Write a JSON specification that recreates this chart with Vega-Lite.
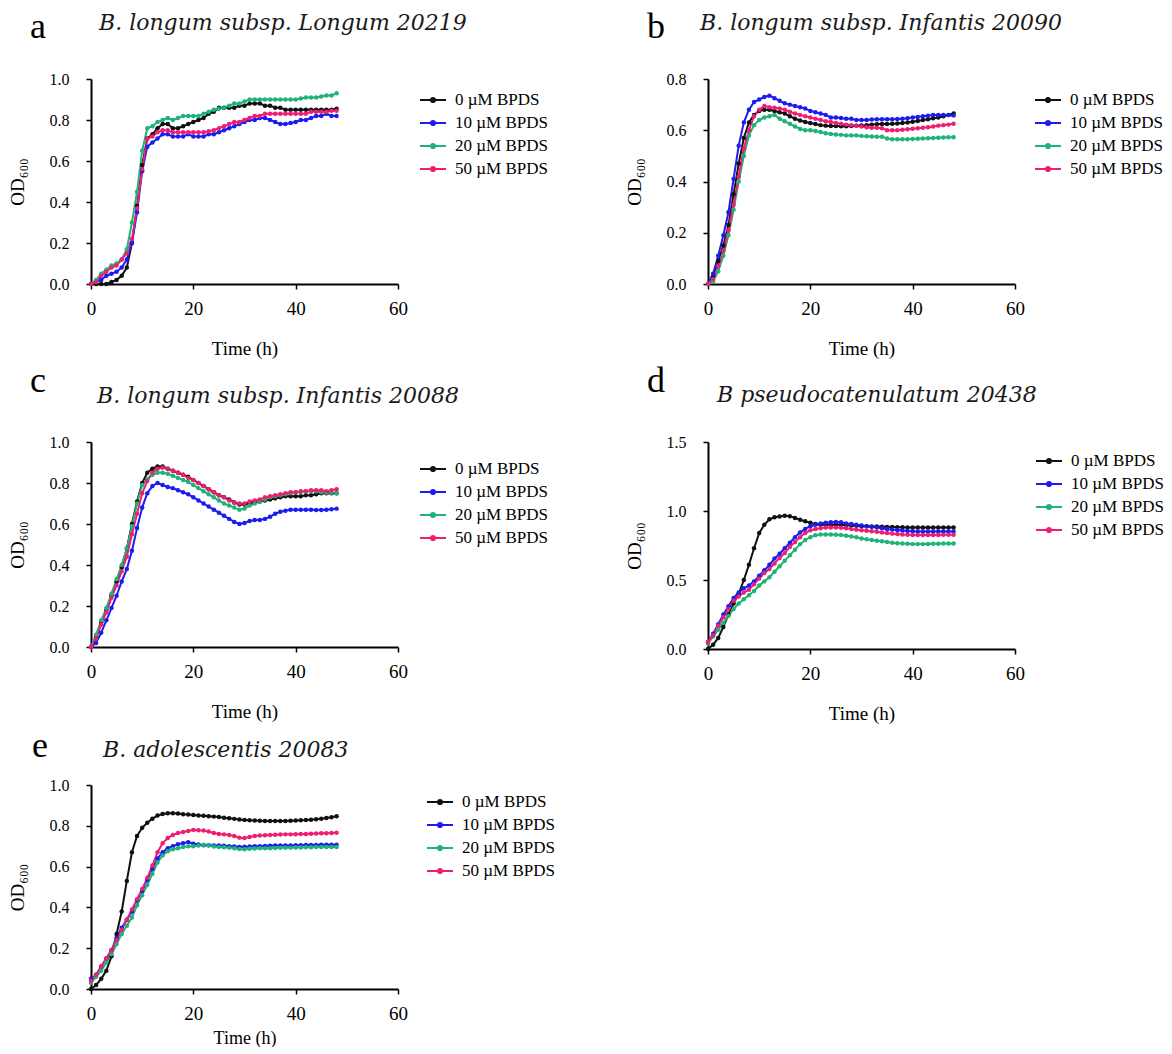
{
  "$schema": "https://vega.github.io/schema/vega-lite/v6.json",
  "padding": {"left": 8, "top": 9, "right": 0, "bottom": 0},
  "background": "white",
  "config": {
    "view": {"stroke": null},
    "axis": {"grid": false, "domainColor": "#000", "domainWidth": 2, "tickColor": "#000", "tickWidth": 1.5, "tickSize": 5, "labelFont": "Liberation Serif", "titleFont": "Liberation Serif", "titleFontWeight": "normal", "labelColor": "#000", "titleColor": "#000"},
    "axisX": {"labelFontSize": 19, "titleFontSize": 19, "labelPadding": 10, "titlePadding": 21, "labelFlush": false},
    "axisY": {"labelFontSize": 16, "titleFontSize": 19, "labelPadding": 17, "titlePadding": 22},
    "legend": {"labelFont": "Liberation Serif", "labelFontSize": 17, "labelColor": "#000", "rowPadding": 1, "labelOffset": 8, "symbolType": "M-1,0H1M-0.16,0A0.16,0.16,0,1,0,0.16,0A0.16,0.16,0,1,0,-0.16,0Z", "symbolSize": 676, "symbolStrokeWidth": 2}
  },
  "columns": 2,
  "align": "each",
  "spacing": {"row": 5, "column": 70},
  "resolve": {"scale": {"color": "independent"}, "legend": {"color": "independent"}},
  "datasets": {
    "a": [
      {"t":0,"c0":0.00,"c10":0.00,"c20":0.00,"c50":0.00},
      {"t":1,"c0":0.00,"c10":0.01,"c20":0.02,"c50":0.01},
      {"t":2,"c0":0.00,"c10":0.02,"c20":0.05,"c50":0.04},
      {"t":3,"c0":0.00,"c10":0.04,"c20":0.07,"c50":0.06},
      {"t":4,"c0":0.01,"c10":0.05,"c20":0.09,"c50":0.08},
      {"t":5,"c0":0.02,"c10":0.06,"c20":0.10,"c50":0.09},
      {"t":6,"c0":0.04,"c10":0.08,"c20":0.12,"c50":0.12},
      {"t":7,"c0":0.08,"c10":0.12,"c20":0.17,"c50":0.15},
      {"t":8,"c0":0.20,"c10":0.20,"c20":0.30,"c50":0.22},
      {"t":9,"c0":0.38,"c10":0.35,"c20":0.45,"c50":0.37},
      {"t":10,"c0":0.58,"c10":0.55,"c20":0.65,"c50":0.56},
      {"t":11,"c0":0.71,"c10":0.67,"c20":0.76,"c50":0.71},
      {"t":12,"c0":0.73,"c10":0.69,"c20":0.77,"c50":0.72},
      {"t":13,"c0":0.76,"c10":0.71,"c20":0.79,"c50":0.74},
      {"t":14,"c0":0.78,"c10":0.73,"c20":0.80,"c50":0.75},
      {"t":15,"c0":0.78,"c10":0.73,"c20":0.81,"c50":0.75},
      {"t":16,"c0":0.76,"c10":0.72,"c20":0.80,"c50":0.74},
      {"t":17,"c0":0.76,"c10":0.72,"c20":0.81,"c50":0.74},
      {"t":18,"c0":0.77,"c10":0.72,"c20":0.82,"c50":0.74},
      {"t":19,"c0":0.78,"c10":0.73,"c20":0.82,"c50":0.74},
      {"t":20,"c0":0.79,"c10":0.72,"c20":0.82,"c50":0.74},
      {"t":21,"c0":0.80,"c10":0.72,"c20":0.82,"c50":0.74},
      {"t":22,"c0":0.81,"c10":0.72,"c20":0.83,"c50":0.74},
      {"t":23,"c0":0.83,"c10":0.73,"c20":0.84,"c50":0.745},
      {"t":24,"c0":0.84,"c10":0.73,"c20":0.85,"c50":0.75},
      {"t":25,"c0":0.86,"c10":0.74,"c20":0.855,"c50":0.76},
      {"t":26,"c0":0.86,"c10":0.75,"c20":0.86,"c50":0.77},
      {"t":27,"c0":0.86,"c10":0.76,"c20":0.87,"c50":0.78},
      {"t":28,"c0":0.86,"c10":0.77,"c20":0.88,"c50":0.79},
      {"t":29,"c0":0.87,"c10":0.78,"c20":0.88,"c50":0.79},
      {"t":30,"c0":0.87,"c10":0.79,"c20":0.89,"c50":0.80},
      {"t":31,"c0":0.88,"c10":0.80,"c20":0.90,"c50":0.81},
      {"t":32,"c0":0.88,"c10":0.80,"c20":0.90,"c50":0.82},
      {"t":33,"c0":0.88,"c10":0.81,"c20":0.90,"c50":0.82},
      {"t":34,"c0":0.87,"c10":0.81,"c20":0.90,"c50":0.83},
      {"t":35,"c0":0.87,"c10":0.80,"c20":0.90,"c50":0.83},
      {"t":36,"c0":0.86,"c10":0.79,"c20":0.90,"c50":0.83},
      {"t":37,"c0":0.86,"c10":0.78,"c20":0.90,"c50":0.83},
      {"t":38,"c0":0.85,"c10":0.78,"c20":0.90,"c50":0.83},
      {"t":39,"c0":0.85,"c10":0.785,"c20":0.90,"c50":0.83},
      {"t":40,"c0":0.85,"c10":0.79,"c20":0.90,"c50":0.83},
      {"t":41,"c0":0.85,"c10":0.80,"c20":0.905,"c50":0.83},
      {"t":42,"c0":0.85,"c10":0.80,"c20":0.91,"c50":0.83},
      {"t":43,"c0":0.85,"c10":0.81,"c20":0.91,"c50":0.84},
      {"t":44,"c0":0.85,"c10":0.82,"c20":0.91,"c50":0.84},
      {"t":45,"c0":0.85,"c10":0.82,"c20":0.915,"c50":0.84},
      {"t":46,"c0":0.85,"c10":0.83,"c20":0.92,"c50":0.84},
      {"t":47,"c0":0.85,"c10":0.82,"c20":0.92,"c50":0.845},
      {"t":48,"c0":0.855,"c10":0.82,"c20":0.93,"c50":0.845}
    ],
    "b": [
      {"t":0,"c0":0.00,"c10":0.00,"c20":0.00,"c50":0.00},
      {"t":1,"c0":0.03,"c10":0.04,"c20":0.01,"c50":0.02},
      {"t":2,"c0":0.09,"c10":0.11,"c20":0.05,"c50":0.07},
      {"t":3,"c0":0.15,"c10":0.19,"c20":0.11,"c50":0.13},
      {"t":4,"c0":0.23,"c10":0.28,"c20":0.19,"c50":0.21},
      {"t":5,"c0":0.35,"c10":0.41,"c20":0.29,"c50":0.31},
      {"t":6,"c0":0.47,"c10":0.54,"c20":0.40,"c50":0.42},
      {"t":7,"c0":0.57,"c10":0.63,"c20":0.50,"c50":0.53},
      {"t":8,"c0":0.63,"c10":0.68,"c20":0.58,"c50":0.60},
      {"t":9,"c0":0.66,"c10":0.71,"c20":0.62,"c50":0.655},
      {"t":10,"c0":0.675,"c10":0.72,"c20":0.64,"c50":0.68},
      {"t":11,"c0":0.68,"c10":0.73,"c20":0.65,"c50":0.695},
      {"t":12,"c0":0.68,"c10":0.735,"c20":0.655,"c50":0.69},
      {"t":13,"c0":0.675,"c10":0.725,"c20":0.66,"c50":0.688},
      {"t":14,"c0":0.67,"c10":0.715,"c20":0.645,"c50":0.685},
      {"t":15,"c0":0.665,"c10":0.705,"c20":0.635,"c50":0.68},
      {"t":16,"c0":0.655,"c10":0.70,"c20":0.625,"c50":0.672},
      {"t":17,"c0":0.645,"c10":0.695,"c20":0.615,"c50":0.665},
      {"t":18,"c0":0.638,"c10":0.69,"c20":0.605,"c50":0.66},
      {"t":19,"c0":0.632,"c10":0.685,"c20":0.60,"c50":0.655},
      {"t":20,"c0":0.628,"c10":0.675,"c20":0.60,"c50":0.65},
      {"t":21,"c0":0.624,"c10":0.67,"c20":0.597,"c50":0.645},
      {"t":22,"c0":0.62,"c10":0.665,"c20":0.593,"c50":0.64},
      {"t":23,"c0":0.618,"c10":0.66,"c20":0.588,"c50":0.635},
      {"t":24,"c0":0.617,"c10":0.65,"c20":0.585,"c50":0.632},
      {"t":25,"c0":0.617,"c10":0.65,"c20":0.583,"c50":0.628},
      {"t":26,"c0":0.616,"c10":0.648,"c20":0.582,"c50":0.625},
      {"t":27,"c0":0.616,"c10":0.645,"c20":0.58,"c50":0.622},
      {"t":28,"c0":0.617,"c10":0.645,"c20":0.58,"c50":0.62},
      {"t":29,"c0":0.618,"c10":0.64,"c20":0.58,"c50":0.618},
      {"t":30,"c0":0.619,"c10":0.64,"c20":0.578,"c50":0.615},
      {"t":31,"c0":0.62,"c10":0.64,"c20":0.577,"c50":0.612},
      {"t":32,"c0":0.622,"c10":0.642,"c20":0.576,"c50":0.61},
      {"t":33,"c0":0.623,"c10":0.643,"c20":0.575,"c50":0.61},
      {"t":34,"c0":0.624,"c10":0.643,"c20":0.575,"c50":0.608},
      {"t":35,"c0":0.624,"c10":0.643,"c20":0.568,"c50":0.60},
      {"t":36,"c0":0.625,"c10":0.643,"c20":0.565,"c50":0.60},
      {"t":37,"c0":0.626,"c10":0.644,"c20":0.565,"c50":0.60},
      {"t":38,"c0":0.628,"c10":0.645,"c20":0.565,"c50":0.602},
      {"t":39,"c0":0.63,"c10":0.647,"c20":0.565,"c50":0.604},
      {"t":40,"c0":0.633,"c10":0.65,"c20":0.566,"c50":0.606},
      {"t":41,"c0":0.636,"c10":0.652,"c20":0.567,"c50":0.608},
      {"t":42,"c0":0.64,"c10":0.655,"c20":0.568,"c50":0.61},
      {"t":43,"c0":0.643,"c10":0.657,"c20":0.569,"c50":0.612},
      {"t":44,"c0":0.647,"c10":0.66,"c20":0.57,"c50":0.615},
      {"t":45,"c0":0.65,"c10":0.66,"c20":0.571,"c50":0.618},
      {"t":46,"c0":0.655,"c10":0.66,"c20":0.572,"c50":0.62},
      {"t":47,"c0":0.66,"c10":0.659,"c20":0.573,"c50":0.622},
      {"t":48,"c0":0.665,"c10":0.658,"c20":0.573,"c50":0.625}
    ],
    "c": [
      {"t":0,"c0":0.00,"c10":0.00,"c20":0.00,"c50":0.00},
      {"t":1,"c0":0.05,"c10":0.02,"c20":0.06,"c50":0.04},
      {"t":2,"c0":0.12,"c10":0.07,"c20":0.13,"c50":0.11},
      {"t":3,"c0":0.18,"c10":0.13,"c20":0.19,"c50":0.17},
      {"t":4,"c0":0.25,"c10":0.19,"c20":0.26,"c50":0.24},
      {"t":5,"c0":0.32,"c10":0.25,"c20":0.33,"c50":0.30},
      {"t":6,"c0":0.39,"c10":0.32,"c20":0.40,"c50":0.37},
      {"t":7,"c0":0.48,"c10":0.38,"c20":0.48,"c50":0.44},
      {"t":8,"c0":0.60,"c10":0.47,"c20":0.59,"c50":0.55},
      {"t":9,"c0":0.71,"c10":0.58,"c20":0.70,"c50":0.65},
      {"t":10,"c0":0.80,"c10":0.68,"c20":0.79,"c50":0.75},
      {"t":11,"c0":0.85,"c10":0.75,"c20":0.82,"c50":0.81},
      {"t":12,"c0":0.87,"c10":0.785,"c20":0.84,"c50":0.85},
      {"t":13,"c0":0.88,"c10":0.80,"c20":0.85,"c50":0.87},
      {"t":14,"c0":0.88,"c10":0.79,"c20":0.85,"c50":0.875},
      {"t":15,"c0":0.87,"c10":0.78,"c20":0.845,"c50":0.87},
      {"t":16,"c0":0.86,"c10":0.775,"c20":0.835,"c50":0.86},
      {"t":17,"c0":0.85,"c10":0.765,"c20":0.825,"c50":0.85},
      {"t":18,"c0":0.84,"c10":0.755,"c20":0.815,"c50":0.84},
      {"t":19,"c0":0.83,"c10":0.745,"c20":0.805,"c50":0.825},
      {"t":20,"c0":0.815,"c10":0.73,"c20":0.79,"c50":0.815},
      {"t":21,"c0":0.80,"c10":0.715,"c20":0.775,"c50":0.80},
      {"t":22,"c0":0.785,"c10":0.70,"c20":0.76,"c50":0.785},
      {"t":23,"c0":0.77,"c10":0.685,"c20":0.745,"c50":0.77},
      {"t":24,"c0":0.755,"c10":0.67,"c20":0.73,"c50":0.755},
      {"t":25,"c0":0.74,"c10":0.655,"c20":0.715,"c50":0.74},
      {"t":26,"c0":0.73,"c10":0.64,"c20":0.70,"c50":0.73},
      {"t":27,"c0":0.72,"c10":0.625,"c20":0.69,"c50":0.715},
      {"t":28,"c0":0.705,"c10":0.61,"c20":0.68,"c50":0.705},
      {"t":29,"c0":0.695,"c10":0.60,"c20":0.67,"c50":0.70},
      {"t":30,"c0":0.695,"c10":0.605,"c20":0.675,"c50":0.70},
      {"t":31,"c0":0.70,"c10":0.615,"c20":0.69,"c50":0.71},
      {"t":32,"c0":0.705,"c10":0.62,"c20":0.70,"c50":0.715},
      {"t":33,"c0":0.71,"c10":0.62,"c20":0.71,"c50":0.72},
      {"t":34,"c0":0.715,"c10":0.625,"c20":0.72,"c50":0.73},
      {"t":35,"c0":0.72,"c10":0.635,"c20":0.73,"c50":0.735},
      {"t":36,"c0":0.725,"c10":0.65,"c20":0.735,"c50":0.74},
      {"t":37,"c0":0.73,"c10":0.66,"c20":0.74,"c50":0.745},
      {"t":38,"c0":0.735,"c10":0.665,"c20":0.745,"c50":0.75},
      {"t":39,"c0":0.735,"c10":0.67,"c20":0.75,"c50":0.755},
      {"t":40,"c0":0.735,"c10":0.67,"c20":0.755,"c50":0.755},
      {"t":41,"c0":0.735,"c10":0.67,"c20":0.755,"c50":0.76},
      {"t":42,"c0":0.74,"c10":0.67,"c20":0.76,"c50":0.76},
      {"t":43,"c0":0.74,"c10":0.67,"c20":0.76,"c50":0.765},
      {"t":44,"c0":0.745,"c10":0.668,"c20":0.76,"c50":0.765},
      {"t":45,"c0":0.75,"c10":0.668,"c20":0.755,"c50":0.765},
      {"t":46,"c0":0.75,"c10":0.67,"c20":0.752,"c50":0.76},
      {"t":47,"c0":0.75,"c10":0.672,"c20":0.752,"c50":0.765},
      {"t":48,"c0":0.75,"c10":0.675,"c20":0.75,"c50":0.77}
    ],
    "d": [
      {"t":0,"c0":0.00,"c10":0.05,"c20":0.04,"c50":0.05},
      {"t":1,"c0":0.03,"c10":0.11,"c20":0.09,"c50":0.10},
      {"t":2,"c0":0.08,"c10":0.18,"c20":0.14,"c50":0.17},
      {"t":3,"c0":0.16,"c10":0.25,"c20":0.19,"c50":0.23},
      {"t":4,"c0":0.25,"c10":0.31,"c20":0.24,"c50":0.29},
      {"t":5,"c0":0.33,"c10":0.37,"c20":0.29,"c50":0.35},
      {"t":6,"c0":0.40,"c10":0.41,"c20":0.33,"c50":0.38},
      {"t":7,"c0":0.50,"c10":0.44,"c20":0.36,"c50":0.41},
      {"t":8,"c0":0.61,"c10":0.46,"c20":0.39,"c50":0.43},
      {"t":9,"c0":0.73,"c10":0.49,"c20":0.42,"c50":0.47},
      {"t":10,"c0":0.84,"c10":0.53,"c20":0.46,"c50":0.51},
      {"t":11,"c0":0.90,"c10":0.57,"c20":0.49,"c50":0.55},
      {"t":12,"c0":0.94,"c10":0.61,"c20":0.52,"c50":0.58},
      {"t":13,"c0":0.955,"c10":0.655,"c20":0.56,"c50":0.62},
      {"t":14,"c0":0.96,"c10":0.69,"c20":0.60,"c50":0.66},
      {"t":15,"c0":0.965,"c10":0.73,"c20":0.64,"c50":0.695},
      {"t":16,"c0":0.962,"c10":0.77,"c20":0.68,"c50":0.74},
      {"t":17,"c0":0.95,"c10":0.81,"c20":0.72,"c50":0.775},
      {"t":18,"c0":0.937,"c10":0.845,"c20":0.76,"c50":0.81},
      {"t":19,"c0":0.925,"c10":0.87,"c20":0.79,"c50":0.84},
      {"t":20,"c0":0.915,"c10":0.89,"c20":0.81,"c50":0.86},
      {"t":21,"c0":0.905,"c10":0.90,"c20":0.825,"c50":0.87},
      {"t":22,"c0":0.90,"c10":0.91,"c20":0.83,"c50":0.875},
      {"t":23,"c0":0.90,"c10":0.915,"c20":0.83,"c50":0.88},
      {"t":24,"c0":0.90,"c10":0.918,"c20":0.83,"c50":0.88},
      {"t":25,"c0":0.90,"c10":0.92,"c20":0.828,"c50":0.88},
      {"t":26,"c0":0.90,"c10":0.918,"c20":0.826,"c50":0.878},
      {"t":27,"c0":0.897,"c10":0.91,"c20":0.82,"c50":0.875},
      {"t":28,"c0":0.895,"c10":0.905,"c20":0.815,"c50":0.87},
      {"t":29,"c0":0.893,"c10":0.90,"c20":0.81,"c50":0.865},
      {"t":30,"c0":0.89,"c10":0.895,"c20":0.80,"c50":0.86},
      {"t":31,"c0":0.89,"c10":0.89,"c20":0.795,"c50":0.857},
      {"t":32,"c0":0.888,"c10":0.885,"c20":0.79,"c50":0.853},
      {"t":33,"c0":0.887,"c10":0.88,"c20":0.785,"c50":0.85},
      {"t":34,"c0":0.886,"c10":0.875,"c20":0.78,"c50":0.845},
      {"t":35,"c0":0.885,"c10":0.87,"c20":0.775,"c50":0.84},
      {"t":36,"c0":0.884,"c10":0.865,"c20":0.77,"c50":0.836},
      {"t":37,"c0":0.883,"c10":0.862,"c20":0.767,"c50":0.833},
      {"t":38,"c0":0.882,"c10":0.858,"c20":0.764,"c50":0.83},
      {"t":39,"c0":0.881,"c10":0.855,"c20":0.762,"c50":0.828},
      {"t":40,"c0":0.88,"c10":0.853,"c20":0.76,"c50":0.826},
      {"t":41,"c0":0.88,"c10":0.852,"c20":0.76,"c50":0.826},
      {"t":42,"c0":0.88,"c10":0.852,"c20":0.76,"c50":0.826},
      {"t":43,"c0":0.88,"c10":0.852,"c20":0.761,"c50":0.826},
      {"t":44,"c0":0.88,"c10":0.852,"c20":0.762,"c50":0.826},
      {"t":45,"c0":0.88,"c10":0.852,"c20":0.763,"c50":0.826},
      {"t":46,"c0":0.88,"c10":0.852,"c20":0.764,"c50":0.827},
      {"t":47,"c0":0.88,"c10":0.852,"c20":0.765,"c50":0.827},
      {"t":48,"c0":0.88,"c10":0.852,"c20":0.765,"c50":0.828}
    ],
    "e": [
      {"t":0,"c0":0.00,"c10":0.05,"c20":0.03,"c50":0.04},
      {"t":1,"c0":0.02,"c10":0.07,"c20":0.06,"c50":0.07},
      {"t":2,"c0":0.05,"c10":0.11,"c20":0.09,"c50":0.11},
      {"t":3,"c0":0.09,"c10":0.15,"c20":0.13,"c50":0.15},
      {"t":4,"c0":0.16,"c10":0.19,"c20":0.17,"c50":0.19},
      {"t":5,"c0":0.27,"c10":0.25,"c20":0.22,"c50":0.24},
      {"t":6,"c0":0.38,"c10":0.30,"c20":0.27,"c50":0.29},
      {"t":7,"c0":0.53,"c10":0.34,"c20":0.31,"c50":0.34},
      {"t":8,"c0":0.67,"c10":0.38,"c20":0.35,"c50":0.39},
      {"t":9,"c0":0.75,"c10":0.435,"c20":0.41,"c50":0.44},
      {"t":10,"c0":0.79,"c10":0.48,"c20":0.46,"c50":0.49},
      {"t":11,"c0":0.815,"c10":0.535,"c20":0.51,"c50":0.545},
      {"t":12,"c0":0.835,"c10":0.59,"c20":0.565,"c50":0.605},
      {"t":13,"c0":0.85,"c10":0.64,"c20":0.62,"c50":0.67},
      {"t":14,"c0":0.858,"c10":0.67,"c20":0.655,"c50":0.715},
      {"t":15,"c0":0.862,"c10":0.69,"c20":0.675,"c50":0.74},
      {"t":16,"c0":0.862,"c10":0.70,"c20":0.685,"c50":0.755},
      {"t":17,"c0":0.86,"c10":0.71,"c20":0.69,"c50":0.765},
      {"t":18,"c0":0.857,"c10":0.715,"c20":0.696,"c50":0.77},
      {"t":19,"c0":0.855,"c10":0.72,"c20":0.70,"c50":0.775},
      {"t":20,"c0":0.853,"c10":0.712,"c20":0.70,"c50":0.78},
      {"t":21,"c0":0.851,"c10":0.708,"c20":0.703,"c50":0.778},
      {"t":22,"c0":0.849,"c10":0.705,"c20":0.707,"c50":0.777},
      {"t":23,"c0":0.847,"c10":0.705,"c20":0.703,"c50":0.772},
      {"t":24,"c0":0.845,"c10":0.704,"c20":0.698,"c50":0.765},
      {"t":25,"c0":0.843,"c10":0.703,"c20":0.696,"c50":0.76},
      {"t":26,"c0":0.84,"c10":0.702,"c20":0.695,"c50":0.758},
      {"t":27,"c0":0.837,"c10":0.70,"c20":0.693,"c50":0.755},
      {"t":28,"c0":0.834,"c10":0.698,"c20":0.69,"c50":0.75},
      {"t":29,"c0":0.831,"c10":0.696,"c20":0.686,"c50":0.742},
      {"t":30,"c0":0.829,"c10":0.697,"c20":0.685,"c50":0.74},
      {"t":31,"c0":0.827,"c10":0.698,"c20":0.687,"c50":0.745},
      {"t":32,"c0":0.826,"c10":0.70,"c20":0.689,"c50":0.75},
      {"t":33,"c0":0.825,"c10":0.70,"c20":0.69,"c50":0.752},
      {"t":34,"c0":0.824,"c10":0.701,"c20":0.69,"c50":0.754},
      {"t":35,"c0":0.823,"c10":0.702,"c20":0.69,"c50":0.755},
      {"t":36,"c0":0.823,"c10":0.703,"c20":0.691,"c50":0.756},
      {"t":37,"c0":0.824,"c10":0.704,"c20":0.692,"c50":0.757},
      {"t":38,"c0":0.824,"c10":0.704,"c20":0.693,"c50":0.758},
      {"t":39,"c0":0.825,"c10":0.704,"c20":0.693,"c50":0.758},
      {"t":40,"c0":0.826,"c10":0.705,"c20":0.694,"c50":0.759},
      {"t":41,"c0":0.827,"c10":0.705,"c20":0.694,"c50":0.76},
      {"t":42,"c0":0.828,"c10":0.706,"c20":0.695,"c50":0.76},
      {"t":43,"c0":0.83,"c10":0.706,"c20":0.695,"c50":0.761},
      {"t":44,"c0":0.832,"c10":0.706,"c20":0.696,"c50":0.762},
      {"t":45,"c0":0.835,"c10":0.707,"c20":0.696,"c50":0.763},
      {"t":46,"c0":0.838,"c10":0.707,"c20":0.696,"c50":0.764},
      {"t":47,"c0":0.842,"c10":0.707,"c20":0.696,"c50":0.765},
      {"t":48,"c0":0.847,"c10":0.707,"c20":0.696,"c50":0.766}
    ]
  },
  "concat": [
    {
      "title": {"text": "a", "anchor": "start", "frame": "bounds", "font": "Liberation Serif", "fontSize": 36, "fontWeight": "normal", "color": "#000", "dx": 22, "dy": 34, "offset": 0},
      "resolve": {"scale": {"color": "independent"}, "legend": {"color": "independent"}},
      "vconcat": [{
        "title": {"text": "B. longum subsp. Longum 20219", "anchor": "start", "frame": "group", "font": "DejaVu Serif", "fontStyle": "italic", "fontSize": 22, "fontWeight": "normal", "color": "#1a1a1a", "dx": 8, "offset": 36},
        "data": {"name": "a"},
        "width": 307, "height": 205,
        "transform": [{"fold": ["c0", "c10", "c20", "c50"], "as": ["k", "od"]}],
        "mark": {"type": "line", "strokeWidth": 2, "point": {"filled": true, "size": 20}},
        "encoding": {
          "x": {"field": "t", "type": "quantitative", "scale": {"domain": [0, 60]}, "axis": {"values": [0, 20, 40, 60], "title": "Time (h)"}},
          "y": {"field": "od", "type": "quantitative", "scale": {"domain": [0, 1]}, "axis": {"values": [0, 0.2, 0.4, 0.6, 0.8, 1], "format": ".1f", "title": "OD₆₀₀"}},
          "color": {"field": "k", "type": "nominal", "scale": {"domain": ["c0", "c10", "c20", "c50"], "range": ["#111111", "#1c1cf0", "#1fb377", "#ee1f72"]}, "legend": {"title": null, "orient": "none", "legendX": 328, "legendY": 7, "labelExpr": "datum.value == 'c0' ? '0 µM BPDS' : datum.value == 'c10' ? '10 µM BPDS' : datum.value == 'c20' ? '20 µM BPDS' : '50 µM BPDS'"}}
        }
      }]
    },
    {
      "title": {"text": "b", "anchor": "start", "frame": "bounds", "font": "Liberation Serif", "fontSize": 36, "fontWeight": "normal", "color": "#000", "dx": 22, "dy": 34, "offset": 0},
      "resolve": {"scale": {"color": "independent"}, "legend": {"color": "independent"}},
      "vconcat": [{
        "title": {"text": "B. longum subsp. Infantis 20090", "anchor": "start", "frame": "group", "font": "DejaVu Serif", "fontStyle": "italic", "fontSize": 22, "fontWeight": "normal", "color": "#1a1a1a", "dx": -8, "offset": 36},
        "data": {"name": "b"},
        "width": 307, "height": 205,
        "transform": [{"fold": ["c0", "c10", "c20", "c50"], "as": ["k", "od"]}],
        "mark": {"type": "line", "strokeWidth": 2, "point": {"filled": true, "size": 20}},
        "encoding": {
          "x": {"field": "t", "type": "quantitative", "scale": {"domain": [0, 60]}, "axis": {"values": [0, 20, 40, 60], "title": "Time (h)"}},
          "y": {"field": "od", "type": "quantitative", "scale": {"domain": [0, 0.8]}, "axis": {"values": [0, 0.2, 0.4, 0.6, 0.8], "format": ".1f", "title": "OD₆₀₀"}},
          "color": {"field": "k", "type": "nominal", "scale": {"domain": ["c0", "c10", "c20", "c50"], "range": ["#111111", "#1c1cf0", "#1fb377", "#ee1f72"]}, "legend": {"title": null, "orient": "none", "legendX": 326, "legendY": 7, "labelExpr": "datum.value == 'c0' ? '0 µM BPDS' : datum.value == 'c10' ? '10 µM BPDS' : datum.value == 'c20' ? '20 µM BPDS' : '50 µM BPDS'"}}
        }
      }]
    },
    {
      "title": {"text": "c", "anchor": "start", "frame": "bounds", "font": "Liberation Serif", "fontSize": 36, "fontWeight": "normal", "color": "#000", "dx": 22, "dy": 15, "offset": 0},
      "resolve": {"scale": {"color": "independent"}, "legend": {"color": "independent"}},
      "vconcat": [{
        "title": {"text": "B. longum subsp. Infantis 20088", "anchor": "start", "frame": "group", "font": "DejaVu Serif", "fontStyle": "italic", "fontSize": 22, "fontWeight": "normal", "color": "#1a1a1a", "dx": 6, "offset": 26},
        "data": {"name": "c"},
        "width": 307, "height": 205,
        "transform": [{"fold": ["c0", "c10", "c20", "c50"], "as": ["k", "od"]}],
        "mark": {"type": "line", "strokeWidth": 2, "point": {"filled": true, "size": 20}},
        "encoding": {
          "x": {"field": "t", "type": "quantitative", "scale": {"domain": [0, 60]}, "axis": {"values": [0, 20, 40, 60], "title": "Time (h)"}},
          "y": {"field": "od", "type": "quantitative", "scale": {"domain": [0, 1]}, "axis": {"values": [0, 0.2, 0.4, 0.6, 0.8, 1], "format": ".1f", "title": "OD₆₀₀"}},
          "color": {"field": "k", "type": "nominal", "scale": {"domain": ["c0", "c10", "c20", "c50"], "range": ["#111111", "#1c1cf0", "#1fb377", "#ee1f72"]}, "legend": {"title": null, "orient": "none", "legendX": 328, "legendY": 13, "labelExpr": "datum.value == 'c0' ? '0 µM BPDS' : datum.value == 'c10' ? '10 µM BPDS' : datum.value == 'c20' ? '20 µM BPDS' : '50 µM BPDS'"}}
        }
      }]
    },
    {
      "title": {"text": "d", "anchor": "start", "frame": "bounds", "font": "Liberation Serif", "fontSize": 36, "fontWeight": "normal", "color": "#000", "dx": 22, "dy": 16, "offset": 0},
      "resolve": {"scale": {"color": "independent"}, "legend": {"color": "independent"}},
      "vconcat": [{
        "title": {"text": "B pseudocatenulatum 20438", "anchor": "start", "frame": "group", "font": "DejaVu Serif", "fontStyle": "italic", "fontSize": 22, "fontWeight": "normal", "color": "#1a1a1a", "dx": 9, "offset": 27},
        "data": {"name": "d"},
        "width": 307, "height": 207,
        "transform": [{"fold": ["c0", "c10", "c20", "c50"], "as": ["k", "od"]}],
        "mark": {"type": "line", "strokeWidth": 2, "point": {"filled": true, "size": 20}},
        "encoding": {
          "x": {"field": "t", "type": "quantitative", "scale": {"domain": [0, 60]}, "axis": {"values": [0, 20, 40, 60], "title": "Time (h)"}},
          "y": {"field": "od", "type": "quantitative", "scale": {"domain": [0, 1.5]}, "axis": {"values": [0, 0.5, 1, 1.5], "format": ".1f", "title": "OD₆₀₀"}},
          "color": {"field": "k", "type": "nominal", "scale": {"domain": ["c0", "c10", "c20", "c50"], "range": ["#111111", "#1c1cf0", "#1fb377", "#ee1f72"]}, "legend": {"title": null, "orient": "none", "legendX": 327, "legendY": 5, "labelExpr": "datum.value == 'c0' ? '0 µM BPDS' : datum.value == 'c10' ? '10 µM BPDS' : datum.value == 'c20' ? '20 µM BPDS' : '50 µM BPDS'"}}
        }
      }]
    },
    {
      "title": {"text": "e", "anchor": "start", "frame": "bounds", "font": "Liberation Serif", "fontSize": 36, "fontWeight": "normal", "color": "#000", "dx": 24, "dy": 26, "offset": 0},
      "resolve": {"scale": {"color": "independent"}, "legend": {"color": "independent"}},
      "vconcat": [{
        "title": {"text": "B. adolescentis 20083", "anchor": "start", "frame": "group", "font": "DejaVu Serif", "fontStyle": "italic", "fontSize": 22, "fontWeight": "normal", "color": "#1a1a1a", "dx": 12, "offset": 15},
        "data": {"name": "e"},
        "width": 307, "height": 204,
        "transform": [{"fold": ["c0", "c10", "c20", "c50"], "as": ["k", "od"]}],
        "mark": {"type": "line", "strokeWidth": 2, "point": {"filled": true, "size": 20}},
        "encoding": {
          "x": {"field": "t", "type": "quantitative", "scale": {"domain": [0, 60]}, "axis": {"values": [0, 20, 40, 60], "title": "Time (h)", "titlePadding": 6, "titleFontSize": 18}},
          "y": {"field": "od", "type": "quantitative", "scale": {"domain": [0, 1]}, "axis": {"values": [0, 0.2, 0.4, 0.6, 0.8, 1], "format": ".1f", "title": "OD₆₀₀"}},
          "color": {"field": "k", "type": "nominal", "scale": {"domain": ["c0", "c10", "c20", "c50"], "range": ["#111111", "#1c1cf0", "#1fb377", "#ee1f72"]}, "legend": {"title": null, "orient": "none", "legendX": 335, "legendY": 3, "labelExpr": "datum.value == 'c0' ? '0 µM BPDS' : datum.value == 'c10' ? '10 µM BPDS' : datum.value == 'c20' ? '20 µM BPDS' : '50 µM BPDS'"}}
        }
      }]
    }
  ]
}
